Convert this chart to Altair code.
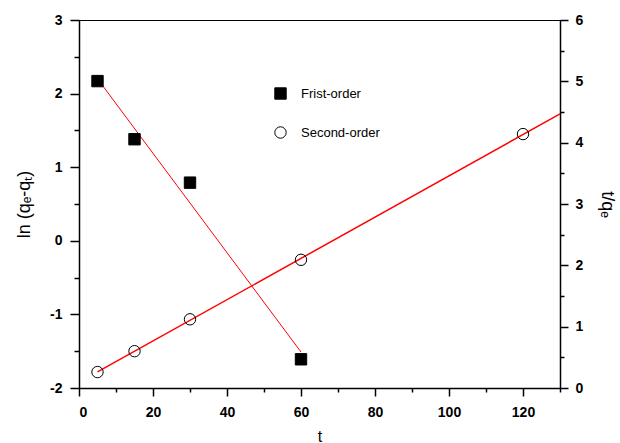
import altair as alt
import pandas as pd

# Data
t_first = [5, 15, 30, 60]
v_first = [2.17, 1.38, 0.79, -1.61]          # ln(qe-qt)
t_second = [5, 15, 30, 60, 120]
v_second = [0.26, 0.60, 1.12, 2.09, 4.14]    # t/qe

series_names = ["Frist-order", "Second-order"]

x_ticks = [0, 10, 20, 30, 40, 50, 60, 70, 80, 90, 100, 110, 120, 130]
yl_ticks = [-2, -1.5, -1, -0.5, 0, 0.5, 1, 1.5, 2, 2.5, 3]
yr_ticks = [0, 0.5, 1, 1.5, 2, 2.5, 3, 3.5, 4, 4.5, 5, 5.5, 6]

df1 = pd.DataFrame({"t": t_first, "v": v_first, "series": series_names[0]})
df2 = pd.DataFrame({"t": t_second, "v": v_second, "series": series_names[1]})

FONT = "Liberation Sans"
xscale = alt.Scale(domain=[0, 130], nice=False, zero=False)
ylscale = alt.Scale(domain=[-2, 3], nice=False, zero=False)
yrscale = alt.Scale(domain=[0, 6], nice=False, zero=False)

common = dict(domainColor="black", tickColor="black", labelColor="black",
              titleColor="black", grid=False, labelFont=FONT, titleFont=FONT,
              domainWidth=1.5, tickWidth=1.5, labelFontSize=14,
              labelFontWeight="bold", titleFontWeight="normal")

ax_x = alt.Axis(values=x_ticks,
                tickSize={"condition": {"test": "datum.value % 20 === 0", "value": 8}, "value": 4},
                labelExpr="datum.value % 20 === 0 && datum.value <= 120 ? '' + datum.value : ''",
                labelPadding=9, title="t", titleFontSize=16, titlePadding=9, **common)
ax_yl = alt.Axis(values=yl_ticks, orient="left",
                 tickSize={"condition": {"test": "datum.value % 1 === 0", "value": 9}, "value": 5},
                 labelExpr="datum.value % 1 === 0 ? (datum.value < 0 ? '-' + abs(datum.value) : '' + datum.value) : ''",
                 labelPadding=8, title="ln (qₑ-qₜ)", titleFontSize=18, titlePadding=16,
                 **common)
ax_yr = alt.Axis(values=yr_ticks, orient="right",
                 tickSize={"condition": {"test": "datum.value % 1 === 0", "value": 8}, "value": 4},
                 labelExpr="datum.value % 1 === 0 ? '' + datum.value : ''",
                 labelPadding=7, title="t/qₑ", titleFontSize=18, titlePadding=15, **common)

legend = alt.Legend(orient="none", legendX=195, legendY=67, title=None,
                    labelFont=FONT, labelFontSize=13, labelColor="black",
                    symbolSize=130, symbolStrokeWidth=1, rowPadding=22,
                    labelOffset=14, padding=0)

shape_enc = alt.Shape("series:N",
                      scale=alt.Scale(domain=series_names, range=["square", "circle"]),
                      legend=legend)
fill_enc = alt.Fill("series:N",
                    scale=alt.Scale(domain=series_names, range=["black", "transparent"]),
                    legend=legend)
stroke_enc = alt.Stroke("series:N",
                        scale=alt.Scale(domain=series_names, range=["black", "black"]),
                        legend=legend)

first_line = alt.Chart(df1).transform_regression(
    "t", "v", method="linear", extent=[5, 60]
).mark_line(color="red", strokeWidth=1).encode(
    x=alt.X("t:Q", scale=xscale, axis=ax_x),
    y=alt.Y("v:Q", scale=ylscale, axis=ax_yl),
)
first_pts = alt.Chart(df1).mark_point(filled=True, size=130, strokeWidth=1,
                                      opacity=1).encode(
    x=alt.X("t:Q", scale=xscale, axis=ax_x),
    y=alt.Y("v:Q", scale=ylscale, axis=ax_yl),
    shape=shape_enc, fill=fill_enc, stroke=stroke_enc,
)
second_line = alt.Chart(df2).transform_regression(
    "t", "v", method="linear", extent=[5, 130]
).mark_line(color="red", strokeWidth=1.5).encode(
    x=alt.X("t:Q", scale=xscale, axis=ax_x),
    y=alt.Y("v:Q", scale=yrscale, axis=ax_yr),
)
second_pts = alt.Chart(df2).mark_point(filled=True, size=130, strokeWidth=1,
                                       opacity=1).encode(
    x=alt.X("t:Q", scale=xscale, axis=ax_x),
    y=alt.Y("v:Q", scale=yrscale, axis=ax_yr),
    shape=shape_enc, fill=fill_enc, stroke=stroke_enc,
)

groupA = alt.layer(first_line, first_pts)
groupB = alt.layer(second_line, second_pts)

chart = alt.layer(groupA, groupB).resolve_scale(y="independent").properties(
    width=481, height=368,
    autosize=alt.AutoSizeParams(type="none"),
    padding={"left": 79, "top": 20, "right": 60, "bottom": 55},
    background="white",
).configure_view(stroke="black", strokeWidth=1)

chart.save("out.html", embed_options={"renderer": "svg", "actions": False})
